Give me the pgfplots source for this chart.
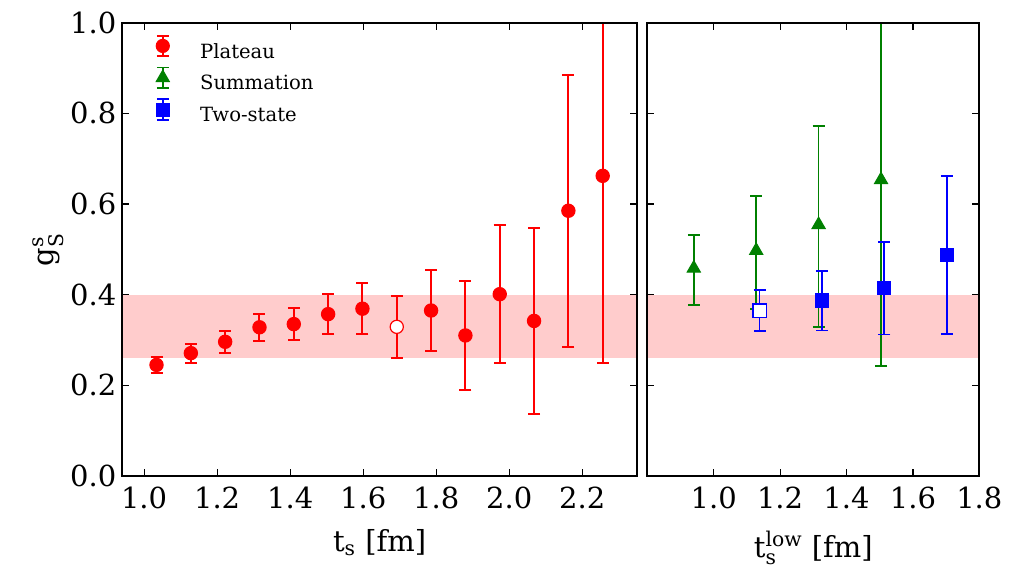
\documentclass[border=0pt]{standalone}
\usepackage{fontspec}
\setmainfont{DejaVu Serif}
\usepackage{amsmath}
\usepackage{pgfplots}
\usepackage{pgfplotstable}
\pgfplotsset{compat=1.18}

\definecolor{ptred}{rgb}{1,0,0}
\definecolor{ptgreen}{rgb}{0,0.5,0}
\definecolor{ptblue}{rgb}{0,0,1}
\definecolor{bandfill}{rgb}{1,0.8,0.8}

% plateau fits, source-sink separation t_s in fm
\pgfplotstableread{
x     y     e
1.034 0.245 0.018
1.128 0.271 0.021
1.222 0.296 0.024
1.316 0.328 0.030
1.410 0.335 0.036
1.504 0.357 0.044
1.598 0.369 0.056
1.786 0.365 0.089
1.880 0.310 0.121
1.974 0.401 0.152
2.068 0.342 0.206
2.162 0.585 0.300
2.256 0.662 0.413
}\plateau
\pgfplotstableread{
x     y     e
1.692 0.329 0.068
}\plateauopen
% summation and two-state fits versus lowest t_s
\pgfplotstableread{
x     y     e
0.940 0.454 0.077
1.128 0.493 0.124
1.316 0.550 0.222
1.504 0.649 0.406
}\summation
\pgfplotstableread{
x     y     e
1.326 0.387 0.066
1.514 0.414 0.102
1.702 0.487 0.174
}\twostate
\pgfplotstableread{
x     y     e
1.138 0.365 0.045
}\twostateopen

% legend symbol: marker with an error bar
\newcommand{\errleg}[4]{%
  \path (0pt,0pt) (24pt,0pt);
  \draw[#1, line width=#4] (8.54pt,-1.6pt) -- (8.54pt,8.8pt)
    (5.54pt,-1.6pt) -- (11.54pt,-1.6pt)
    (5.54pt,8.8pt) -- (11.54pt,8.8pt);
  \draw[#1, fill=#1, line width=0.5pt] plot[only marks, mark=#2, mark size=#3] coordinates {(8.54pt,3.6pt)};
}

\pgfplotsset{
  panel/.style={
    scale only axis, height=226.7pt, anchor=south west,
    ymin=0, ymax=1, ytick={0,0.2,0.4,0.6,0.8,1.0},
    axis on top,
    axis line style={line width=1pt},
    tick style={black, line width=0.6pt}, major tick length=3.5pt,
    tick label style={font=\fontsize{14.5}{17}\selectfont},
    label style={font=\fontsize{14.5}{17}\selectfont},
    /pgf/number format/assume math mode=true,
    /pgf/number format/fixed, /pgf/number format/fixed zerofill,
    /pgf/number format/precision=1,
    xticklabel style={inner ysep=0pt, yshift=-5.5pt},
    yticklabel style={inner xsep=0pt, xshift=-2.75pt},
  },
  pts/.style={only marks,
    error bars/y dir=both, error bars/y explicit,
    error bars/error bar style={line width=#1},
    error bars/error mark options={rotate=90, line width=#1, mark size=3pt}},
}

\begin{document}
\begin{tikzpicture}
\begin{axis}[panel, at={(61.1pt,49pt)}, width=257.4pt,
  xmin=0.94, xmax=2.35, xtick={1.0,1.2,1.4,1.6,1.8,2.0,2.2},
  xlabel={t$_\text{s}$\ [fm]},
  xlabel style={at={(axis description cs:0.5,0)}, anchor=base, yshift=-37.5pt},
  ylabel={$\text{g}_\text{S}^\text{s}$},
  ylabel style={at={(axis description cs:-0.144,0.5)}, anchor=center},
  legend style={draw=none, fill=none, at={(axis description cs:0.0441,0.9746)},
    anchor=north west, inner sep=0pt, row sep=2.2pt,
    font=\fontsize{9.8}{12}\selectfont,
    nodes={inner xsep=3pt, inner ysep=0pt, text height=7pt, text depth=2pt}},
  legend cell align=left]
  \addplot[draw=none, fill=bandfill, forget plot]
    coordinates {(0.94,0.26) (2.35,0.26) (2.35,0.40) (0.94,0.40)} -- cycle;
  \addplot[ptred, mark=*, mark size=3.3pt, pts=1pt, mark options={line width=0.6pt}, forget plot]
    table[x=x, y=y, y error=e] {\plateau};
  \addplot[ptred, mark=*, mark size=3.3pt, pts=1pt, mark options={fill=white, line width=0.6pt}, forget plot]
    table[x=x, y=y, y error=e] {\plateauopen};
  \addlegendimage{legend image code/.code={\errleg{ptred}{*}{3.3pt}{1pt}}}
  \addlegendentry{Plateau}
  \addlegendimage{legend image code/.code={\errleg{ptgreen}{triangle*}{3.8pt}{0.85pt}}}
  \addlegendentry{Summation}
  \addlegendimage{legend image code/.code={\errleg{ptblue}{square*}{3.3pt}{0.95pt}}}
  \addlegendentry{Two-state}
\end{axis}

\begin{axis}[panel, at={(323.65pt,49pt)}, width=166pt,
  xmin=0.8, xmax=1.8, xtick={1.0,1.2,1.4,1.6,1.8},
  yticklabels={},
  xlabel={t$_\text{s}^\text{low}$\ [fm]},
  xlabel style={at={(axis description cs:0.5,0)}, anchor=base, yshift=-40.5pt}]
  \addplot[draw=none, fill=bandfill, forget plot]
    coordinates {(0.8,0.26) (1.8,0.26) (1.8,0.40) (0.8,0.40)} -- cycle;
  \addplot[ptgreen, mark=triangle*, mark size=3.8pt, pts=0.85pt, mark options={line width=0.5pt, yshift=0.95pt}]
    table[x=x, y=y, y error=e] {\summation};
  \addplot[ptblue, mark=square*, mark size=3.3pt, pts=0.95pt, mark options={line width=0.5pt}]
    table[x=x, y=y, y error=e] {\twostate};
  \addplot[ptblue, mark=square*, mark size=3.3pt, pts=0.95pt, mark options={fill=white, line width=0.6pt}]
    table[x=x, y=y, y error=e] {\twostateopen};
\end{axis}
\pgfresetboundingbox
\useasboundingbox (0,0) rectangle (510pt,287pt);
\end{tikzpicture}
\end{document}
